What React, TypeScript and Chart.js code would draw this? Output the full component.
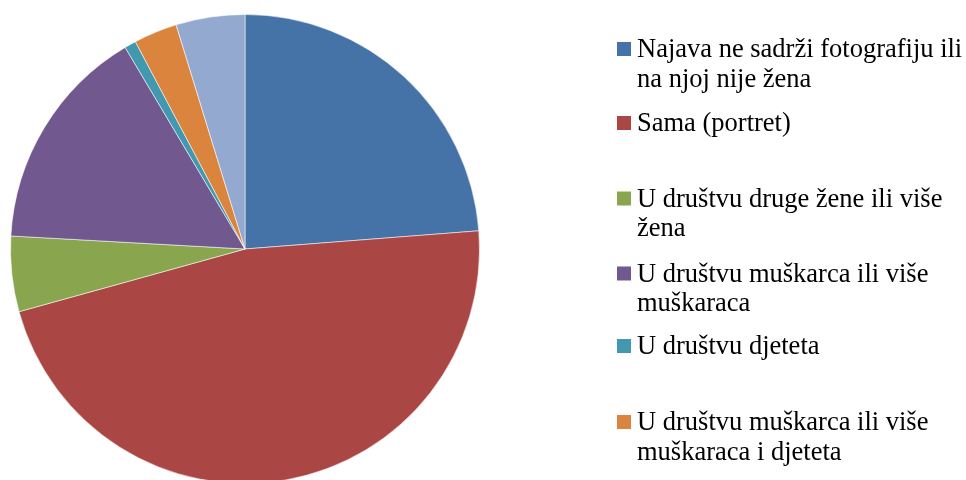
import React, { useEffect, useRef } from "react";
import { Chart, registerables } from "chart.js";

Chart.register(...registerables);

const categories = [
  "Najava ne sadrži fotografiju ili na njoj nije žena",
  "Sama (portret)",
  "U društvu druge žene ili više žena",
  "U društvu muškarca ili više muškaraca",
  "U društvu djeteta",
  "U društvu muškarca ili više muškaraca i djeteta",
  "Ostalo",
];
const values = [23.8, 47.0, 5.2, 15.6, 0.8, 3.0, 4.75];
const colors = ["#4572A7", "#AA4643", "#89A54E", "#71588F", "#4198AF", "#DB843D", "#93A9CF"];
const legendBaselines = [57, 131, 206.5, 281.5, 354, 430, 530];

const FONT = '26.5px "Liberation Serif", "Times New Roman", serif';
const LINE_H = 29.5;
const SQUARE_X = 617;
const TEXT_X = 637;
const MAX_W = 329;

function wrap(ctx: CanvasRenderingContext2D, text: string, maxW: number): string[] {
  const words = text.split(" ");
  const lines: string[] = [];
  let cur = "";
  for (const w of words) {
    const test = cur ? cur + " " + w : w;
    if (cur && ctx.measureText(test).width > maxW) {
      lines.push(cur);
      cur = w;
    } else {
      cur = test;
    }
  }
  if (cur) lines.push(cur);
  return lines;
}

const sideLegend = {
  id: "sideLegend",
  afterDraw(chart: any) {
    const ctx: CanvasRenderingContext2D = chart.ctx;
    const ds = chart.data.datasets[0];
    ctx.save();
    ctx.font = FONT;
    ctx.textBaseline = "alphabetic";
    ctx.textAlign = "left";
    (chart.data.labels as string[]).forEach((label, i) => {
      const base = legendBaselines[i];
      ctx.fillStyle = ds.backgroundColor[i];
      ctx.fillRect(SQUARE_X, base - 15, 14, 14);
      ctx.fillStyle = "#000000";
      wrap(ctx, label, MAX_W).forEach((line, j) => {
        ctx.fillText(line, TEXT_X, base + j * LINE_H);
      });
    });
    ctx.restore();
  },
};

export default function App() {
  const ref = useRef<HTMLCanvasElement | null>(null);

  useEffect(() => {
    let chart: Chart | null = null;
    let cancelled = false;
    const make = () => {
      if (cancelled || !ref.current) return;
      chart = new Chart(ref.current, {
        type: "pie",
        data: {
          labels: categories,
          datasets: [
            {
              data: values,
              backgroundColor: colors,
              borderColor: "rgba(255,255,255,0.55)",
              borderWidth: 1,
            },
          ],
        },
        options: {
          responsive: false,
          animation: false,
          layout: { padding: { top: 14, bottom: 14, left: 10, right: 486 } },
          plugins: { legend: { display: false }, tooltip: { enabled: false } },
        },
        plugins: [sideLegend],
      });
    };
    const fonts = (document as any).fonts;
    if (fonts && fonts.load) {
      fonts.load(FONT, "Najava žena").then(make, make);
    } else {
      make();
    }
    return () => {
      cancelled = true;
      if (chart) chart.destroy();
    };
  }, []);

  return (
    <div
      style={{
        position: "absolute",
        left: 0,
        top: 0,
        width: 966,
        height: 480,
        overflow: "hidden",
        background: "#ffffff",
      }}
    >
      <canvas ref={ref} width={966} height={498} style={{ position: "absolute", left: 0, top: 0 }} />
    </div>
  );
}
